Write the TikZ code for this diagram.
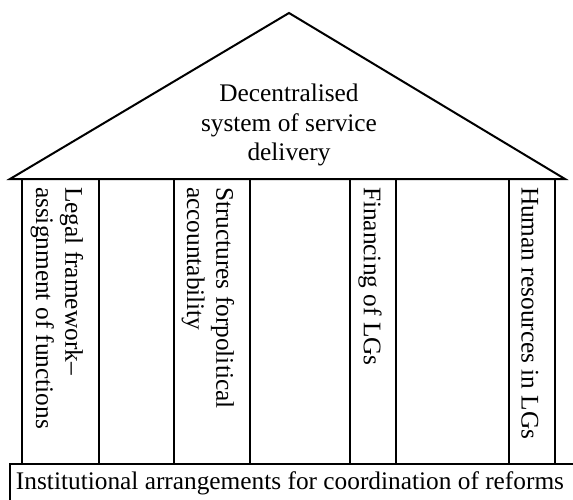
\documentclass[tikz,border=0pt]{standalone}
\usepackage{fontspec}
\setmainfont{Liberation Serif}
\begin{document}
\begin{tikzpicture}[x=0.75pt,y=0.75pt,line width=1.5pt]
\tikzstyle{every node}+=[inner sep=0pt,font=\fontsize{19}{22}\selectfont]
\tikzstyle{pillartext}=[rotate=-90,anchor=west,align=left]
\tikzstyle{pillar}=[black,line width=2pt]
\clip (0,0) rectangle (573,-499);
% roof
\coordinate (apex) at (289,-13);
\coordinate (eaveL) at (10,-179);
\coordinate (eaveR) at (565,-179);
\draw [black,line join=miter] (eaveL) -- (apex) -- (eaveR) -- cycle;
\node (roof) at (289,-125) [align=center] {Decentralised\\system of service\\delivery};
% pillars
\draw [pillar] (22,-179) rectangle (99,-464);
\draw [pillar] (174,-179) rectangle (250,-464);
\draw [pillar] (350,-179) rectangle (396,-464);
\draw [pillar] (509,-179) rectangle (555,-464);
\node (legal) at (57,-186) [pillartext] {Legal framework--\\assignment of functions};
\node (struct) at (208,-186) [pillartext] {Structures forpolitical\\accountability};
\node (finance) at (370,-186) [pillartext] {Financing of LGs};
\node (human) at (530,-186) [pillartext] {Human resources in LGs};
% base
\draw [pillar] (10,-464) rectangle (600,-520);
\node (base) at (15,-483) [anchor=west] {Institutional arrangements for coordination of reforms};
\end{tikzpicture}
\end{document}
